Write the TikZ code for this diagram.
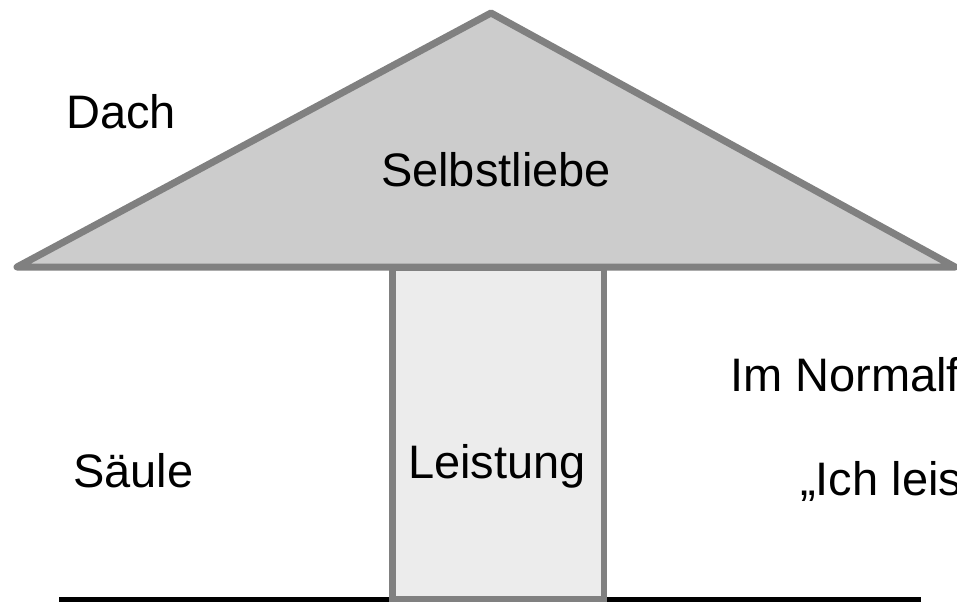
\documentclass[tikz,border=0pt]{standalone}
\usepackage{fontspec}
\setmainfont{Liberation Sans}
\definecolor{roofgray}{HTML}{CCCCCC}
\definecolor{colgray}{HTML}{ECECEC}
\definecolor{edgegray}{HTML}{808080}
\tikzset{
  lbl/.style={inner sep=0pt, font=\fontsize{47}{56}\selectfont, text=black},
  roof/.style={fill=roofgray, draw=edgegray, line width=7pt, line join=round},
  pillar/.style={fill=colgray, draw=edgegray, line width=6.5pt},
  ground/.style={draw=black, line width=5pt}
}
\begin{document}
\begin{tikzpicture}[x=1pt,y=-1pt]
\useasboundingbox (0,0) rectangle (957,602);
\clip (0,0) rectangle (957,602);
% ground line
\coordinate (gl) at (59,599.5);
\coordinate (gr) at (921,599.5);
\draw[ground] (gl) -- (gr);
% pillar
\draw[pillar] (392.5,268) rectangle (604,599);
% roof
\coordinate (apex) at (491,13);
\coordinate (rl) at (17,267);
\coordinate (rr) at (955,267);
\draw[roof] (rl) -- (apex) -- (rr) -- cycle;
% labels
\node[lbl, anchor=base west] (dach) at (66,128) {Dach};
\node[lbl, anchor=base] (selbst) at (496,186) {Selbstliebe};
\node[lbl, anchor=base west] (saeule) at (73,487) {Säule};
\node[lbl, anchor=base] (leist) at (497,478) {Leistung};
\node[lbl, anchor=base west] (normal) at (730,391) {Im Normalf};
\node[lbl, anchor=base west] (ich) at (800,495) {„Ich leis};
\end{tikzpicture}
\end{document}
